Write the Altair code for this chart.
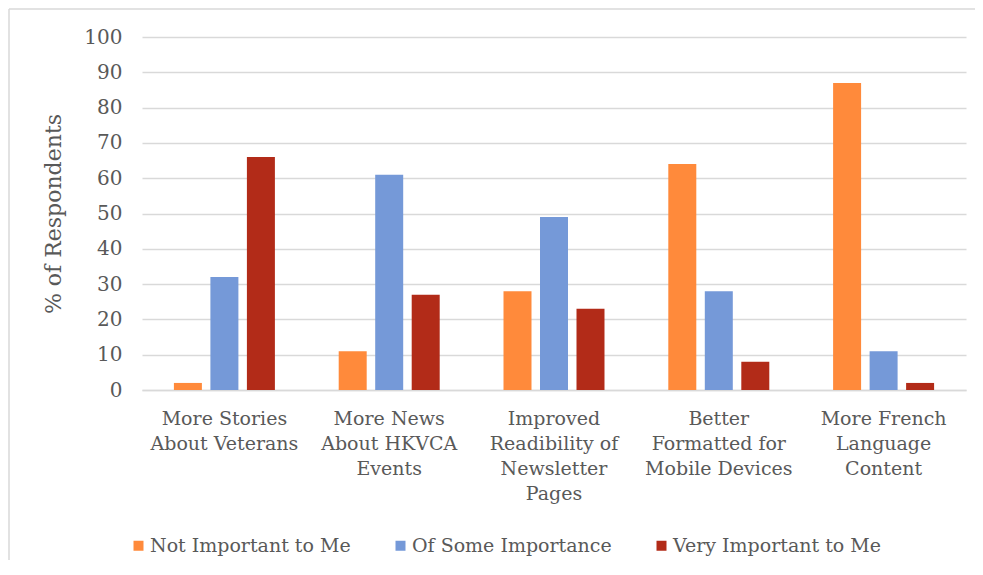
import altair as alt
import pandas as pd

categories = [
    "More Stories\nAbout Veterans",
    "More News\nAbout HKVCA\nEvents",
    "Improved\nReadibility of\nNewsletter\nPages",
    "Better\nFormatted for\nMobile Devices",
    "More French\nLanguage\nContent",
]
series = ["Not Important to Me", "Of Some Importance", "Very Important to Me"]
not_important = [2, 11, 28, 64, 87]
some_importance = [32, 61, 49, 28, 11]
very_important = [66, 27, 23, 8, 2]
colors = ["#FF8A3B", "#7599D8", "#B22B18"]
y_ticks = list(range(0, 101, 10))

rows = []
for s, vals in zip(series, [not_important, some_importance, very_important]):
    for c, v in zip(categories, vals):
        rows.append({"category": c, "series": s, "value": v})
df = pd.DataFrame(rows)

FONT = "DejaVu Serif"
TXT = "#595959"
W, H = 824, 353

bars = alt.Chart(df).mark_bar().encode(
    x=alt.X("category:N", sort=categories, title=None,
            scale=alt.Scale(paddingInner=0, paddingOuter=0),
            axis=alt.Axis(labelAngle=0, labelExpr="split(datum.label, '\\n')",
                          labelFont=FONT, labelFontSize=19, labelColor=TXT,
                          labelLineHeight=25, labelPadding=19, ticks=False,
                          domainColor="#D9D9D9", domainWidth=1.5, labelLimit=300)),
    xOffset=alt.XOffset("series:N", sort=series,
                        scale=alt.Scale(paddingInner=0.233, paddingOuter=0.874)),
    y=alt.Y("value:Q", title="% of Respondents",
            scale=alt.Scale(domain=[0, 100], nice=False),
            axis=alt.Axis(values=y_ticks, labelFont=FONT, labelFontSize=20,
                          labelColor=TXT, labelPadding=20, ticks=False, domain=False,
                          gridColor="#D9D9D9", gridWidth=1.5,
                          titleFont=FONT, titleFontSize=22, titleColor=TXT,
                          titleFontWeight="normal", titlePadding=18)),
    color=alt.Color("series:N", sort=series,
                    scale=alt.Scale(domain=series, range=colors),
                    legend=alt.Legend(title=None, orient="none", direction="horizontal",
                                      legendX=-13, legendY=499, symbolType="square",
                                      symbolSize=100, symbolStrokeWidth=0,
                                      labelFont=FONT, labelFontSize=19, labelColor=TXT,
                                      labelOffset=2, columnPadding=40, labelLimit=0)),
)

frame = pd.DataFrame({"a": [0]})
left_line = alt.Chart(frame).mark_rule(color="#D9D9D9", strokeWidth=1.5, clip=False).encode(
    x=alt.value(-133), y=alt.value(-28), y2=alt.value(H + 300))
top_line = alt.Chart(frame).mark_rule(color="#D9D9D9", strokeWidth=1.5, clip=False).encode(
    y=alt.value(-28), x=alt.value(-133), x2=alt.value(W + 100))

chart = alt.layer(left_line, top_line, bars).properties(
    width=W, height=H,
    autosize=alt.AutoSizeParams(type="none"),
    padding={"left": 134, "top": 29, "right": 9, "bottom": 170},
).configure_view(stroke=None)

chart.save("out.html", embed_options={"renderer": "svg", "actions": False})
